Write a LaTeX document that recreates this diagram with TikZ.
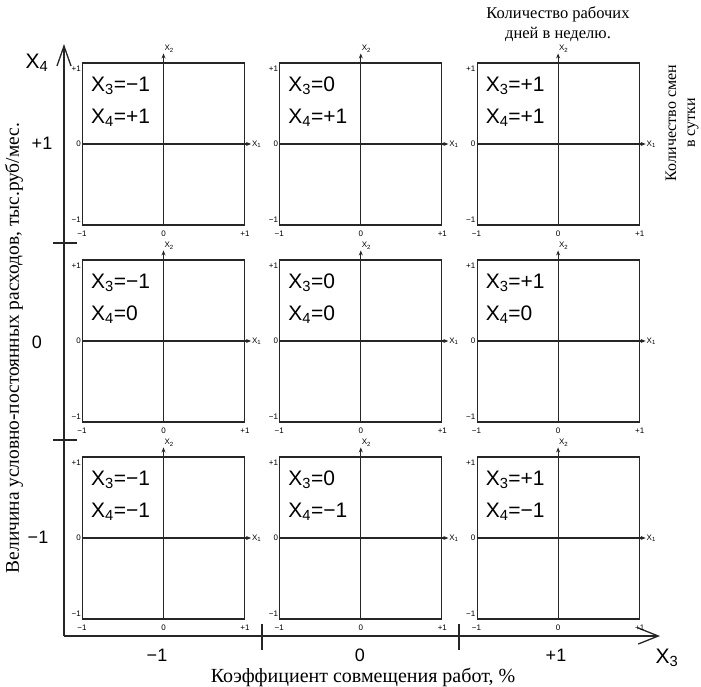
\documentclass[tikz,border=0pt]{standalone}
\usepackage{fontspec}
\setmainfont{Liberation Serif}
\setsansfont{Liberation Sans}
\usetikzlibrary{arrows.meta, positioning, calc}

\begin{document}
\begin{tikzpicture}[
  x=1pt, y=-1pt,
  panel/.style={draw=black!85, line width=1.1pt, minimum size=162pt, inner sep=0pt},
  ax/.style={draw=black!85, line width=1.1pt, -{Stealth[length=5pt,width=4pt]}},
  tiny/.style={font=\sffamily\fontsize{8}{8}\selectfont, inner sep=1pt},
  big/.style={font=\sffamily\fontsize{21}{21}\selectfont, inner sep=0pt},
  num/.style={font=\sffamily\fontsize{18}{18}\selectfont, inner sep=0pt},
  captext/.style={font=\fontsize{20}{22}\selectfont, align=center, inner sep=0pt},
  main/.style={draw=black!85, line width=1.3pt},
]
\useasboundingbox (0,0) rectangle (701,686);

% outer axes
\coordinate (o) at (64,636);
\coordinate (ytip) at (64,44);
\coordinate (xtip) at (660,636);
\draw[main, -{Straight Barb[length=20pt,width=14pt]}] (o) -- (ytip);
\draw[main, -{Straight Barb[length=20pt,width=16pt]}] (o) -- (xtip);
\foreach \y in {243,440} \draw[main] (53,\y) -- (77,\y);
\foreach \x in {262,459} \draw[main] (\x,624) -- (\x,650);

\node[big] (l4) at (37,63) {X\textsubscript{4}};
\node[big] (l3) at (667,658) {X\textsubscript{3}};
\node[num] (v4a) at (42,143) {+1};
\node[num] (v4b) at (37,342) {0};
\node[num] (v4c) at (38,537) {−1};
\node[num] (v3a) at (157,655) {−1};
\node[num] (v3b) at (360,655) {0};
\node[num] (v3c) at (556,655) {+1};

% 3x3 panels
\foreach \c/\xv in {0/{−1},1/0,2/{+1}} {
  \foreach \r/\yv in {0/{+1},1/0,2/{−1}} {
    \node[panel] (p\c\r) at ({163.5+197.3*\c},{144+197*\r}) {};
    \draw[ax] (p\c\r.west) -- ([xshift=6pt]p\c\r.east)
      node[tiny, anchor=west, inner sep=0.5pt] (x1\c\r) {X\textsubscript{1}};
    \draw[ax] (p\c\r.south) -- ([yshift=9pt]p\c\r.north)
      node[tiny, anchor=south west, inner sep=0.5pt] (x2\c\r) {X\textsubscript{2}};
    \node[tiny, anchor=east] at ([yshift=-6pt]p\c\r.north west) {+1};
    \node[tiny, anchor=east] at (p\c\r.west) {0};
    \node[tiny, anchor=east] at ([yshift=6pt]p\c\r.south west) {−1};
    \node[tiny] at ([yshift=-8pt]p\c\r.south west) {−1};
    \node[tiny] at ([yshift=-8pt]p\c\r.south) {0};
    \node[tiny] at ([yshift=-8pt]p\c\r.south east) {+1};
    \node[big, anchor=base west] (ta\c\r) at ([xshift=9pt,yshift=-29pt]p\c\r.north west)
      {X\textsubscript{3}=\xv};
    \node[big, anchor=base west] (tb\c\r) at ([xshift=9pt,yshift=-61pt]p\c\r.north west)
      {X\textsubscript{4}=\yv};
  }
}

% captions
\node[captext, font=\fontsize{16.5}{20}\selectfont] (days) at (558,24) {Количество рабочих\\дней в неделю.};
\node[captext, font=\fontsize{16}{19}\selectfont, rotate=90] (shifts) at (682,123) {Количество смен\\в сутки};
\node[captext, font=\fontsize{19.4}{22}\selectfont, rotate=90] (costs) at (14,348) {Величина условно-постоянных расходов, тыс.руб/мес.};
\node[captext] (coef) at (363,677) {Коэффициент совмещения работ, \%};
\end{tikzpicture}
\end{document}
